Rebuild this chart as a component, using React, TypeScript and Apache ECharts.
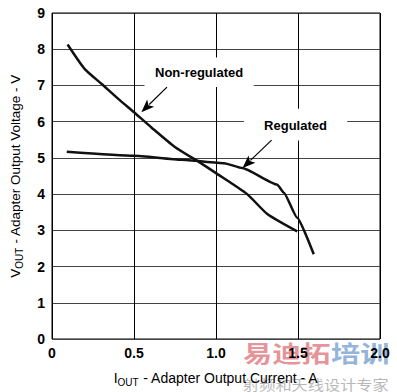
import React, { useEffect, useRef } from "react";
import * as echarts from "echarts";

const xTicks = [0, 0.5, 1.0, 1.5, 2.0];
const xTickLabels = ["0", "0.5", "1.0", "1.5", "2.0"];

const nonRegulatedCurrent = [0.095, 0.2, 0.303, 0.404, 0.5, 0.606, 0.747, 0.91, 1.0, 1.19, 1.313, 1.495];
const nonRegulatedVoltage = [8.13, 7.45, 7.04, 6.63, 6.26, 5.84, 5.31, 4.85, 4.58, 4.0, 3.45, 2.97];

const regulatedCurrent = [0.09, 0.5, 0.79, 1.05, 1.16, 1.374, 1.414, 1.495, 1.596];
const regulatedVoltage = [5.17, 5.06, 4.95, 4.855, 4.72, 4.26, 4.04, 3.35, 2.34];

const annotationLabels = ["Non-regulated", "Regulated"];

// annotation geometry in data coordinates
const annotationBoxes = [
  [0.564, 7.77, 1.23, 6.955],
  [1.17, 6.355, 1.8, 5.48],
];
const annotationTextAt = [
  [0.897, 7.36],
  [1.485, 5.89],
];
const arrowFrom = [
  [0.701, 6.955],
  [1.339, 5.49],
];
const arrowTo = [
  [0.545, 6.26],
  [1.162, 4.72],
];

const FONT = "'Liberation Sans', Arial, Helvetica, sans-serif";
const CJK = "'Noto Sans CJK SC', sans-serif";

export default function App() {
  const ref = useRef<HTMLDivElement>(null);

  useEffect(() => {
    const chart = echarts.init(ref.current!, null, { renderer: "svg" });
    const toPairs = (xs: number[], ys: number[]) => xs.map((x, i) => [x, ys[i]]);

    chart.setOption({
      animation: false,
      backgroundColor: "#fff",
      grid: {
        left: 50,
        right: 17,
        top: 13,
        bottom: 49,
        show: true,
        borderColor: "#000",
        borderWidth: 1,
        backgroundColor: "transparent",
      },
      xAxis: {
        type: "value",
        min: 0,
        max: 2,
        interval: 0.5,
        axisLine: { show: false },
        axisTick: { show: false },
        splitLine: { show: true, lineStyle: { color: "#000", width: 1 } },
        axisLabel: {
          margin: 7,
          color: "#000",
          fontWeight: "bold",
          fontSize: 14,
          fontFamily: FONT,
          formatter: (v: number) => {
            const i = xTicks.findIndex((t) => Math.abs(t - v) < 1e-9);
            return i >= 0 ? xTickLabels[i] : "";
          },
        },
        name: "I{sub|OUT} - Adapter Output Current - A",
        nameLocation: "middle",
        nameGap: 30,
        nameTextStyle: {
          color: "#000",
          fontSize: 14,
          fontFamily: FONT,
          rich: {
            sub: { fontSize: 10, color: "#000", fontFamily: FONT, padding: [8, 0, 0, 0] },
          },
        },
        z: 5,
      },
      yAxis: {
        type: "value",
        min: 0,
        max: 9,
        interval: 1,
        axisLine: { show: false },
        axisTick: { show: false },
        splitLine: { show: true, lineStyle: { color: "#444", width: 1 } },
        axisLabel: {
          margin: 7,
          color: "#000",
          fontWeight: "bold",
          fontSize: 14,
          fontFamily: FONT,
          formatter: (v: number) => String(v),
        },
        name: "V{sub|OUT} - Adapter Output Voltage - V",
        nameLocation: "middle",
        nameGap: 28,
        nameTextStyle: {
          color: "#000",
          fontSize: 13.5,
          fontFamily: FONT,
          rich: {
            sub: { fontSize: 10, color: "#000", fontFamily: FONT, padding: [8, 0, 0, 0] },
          },
        },
      },
      series: [
        {
          name: "Non-regulated",
          type: "line",
          data: toPairs(nonRegulatedCurrent, nonRegulatedVoltage),
          symbol: "none",
          smooth: 0.2,
          lineStyle: { color: "#111", width: 2.5 },
          z: 5,
        },
        {
          name: "Regulated",
          type: "line",
          data: toPairs(regulatedCurrent, regulatedVoltage),
          symbol: "none",
          smooth: 0.15,
          smoothMonotone: "x",
          lineStyle: { color: "#111", width: 2.5 },
          z: 5,
        },
      ],
    });

    const px = (p: number[]) => chart.convertToPixel({ gridIndex: 0 }, p) as number[];
    const graphics: any[] = [];

    // watermark (drawn first, beneath the axis texts)
    graphics.push({
      type: "text",
      x: 243,
      y: 352,
      scaleX: 1.27,
      silent: true,
      style: {
        text: "易迪拓",
        fill: "rgba(222, 120, 125, 0.8)",
        font: `bold 23px ${CJK}`,
        verticalAlign: "middle",
        textVerticalAlign: "middle",
      },
      z: -1,
    });
    graphics.push({
      type: "text",
      x: 331,
      y: 352,
      scaleX: 1.27,
      silent: true,
      style: {
        text: "培训",
        fill: "rgba(120, 160, 210, 0.8)",
        font: `bold 23px ${CJK}`,
        verticalAlign: "middle",
        textVerticalAlign: "middle",
      },
      z: -1,
    });
    graphics.push({
      type: "text",
      x: 243,
      y: 384,
      scaleX: 1.2,
      silent: true,
      style: {
        text: "射频和天线设计专家",
        fill: "rgba(160, 160, 160, 0.75)",
        font: `13.5px ${CJK}`,
        verticalAlign: "middle",
        textVerticalAlign: "middle",
      },
      z: -1,
    });

    annotationLabels.forEach((label, i) => {
      const b = annotationBoxes[i];
      const a = px([b[0], b[1]]);
      const c = px([b[2], b[3]]);
      graphics.push({
        type: "rect",
        shape: { x: a[0], y: a[1], width: c[0] - a[0], height: c[1] - a[1] },
        style: { fill: "#fff" },
        z: 10,
      });
      const t = px(annotationTextAt[i]);
      graphics.push({
        type: "text",
        x: t[0],
        y: t[1],
        style: {
          text: label,
          fill: "#000",
          font: `bold 13px ${FONT}`,
          align: "center",
          verticalAlign: "middle",
          textAlign: "center",
          textVerticalAlign: "middle",
        },
        z: 11,
      });
      const p0 = px(arrowFrom[i]);
      const p1 = px(arrowTo[i]);
      const dx = p1[0] - p0[0];
      const dy = p1[1] - p0[1];
      const len = Math.hypot(dx, dy);
      const ux = dx / len;
      const uy = dy / len;
      const nx = -uy;
      const ny = ux;
      const headLen = 13;
      const headHalf = 5;
      const bx = p1[0] - ux * headLen;
      const by = p1[1] - uy * headLen;
      graphics.push({
        type: "line",
        shape: { x1: p0[0], y1: p0[1], x2: bx + ux * 2, y2: by + uy * 2 },
        style: { stroke: "#000", lineWidth: 1.2 },
        z: 11,
      });
      graphics.push({
        type: "polygon",
        shape: {
          points: [
            [p1[0], p1[1]],
            [bx + nx * headHalf, by + ny * headHalf],
            [bx + ux * 3, by + uy * 3],
            [bx - nx * headHalf, by - ny * headHalf],
          ],
        },
        style: { fill: "#000" },
        z: 11,
      });
    });

    chart.setOption({ graphic: graphics });

    return () => chart.dispose();
  }, []);

  return (
    <div
      ref={ref}
      style={{ position: "fixed", left: 0, top: 0, width: 397, height: 392, background: "#fff" }}
    />
  );
}
